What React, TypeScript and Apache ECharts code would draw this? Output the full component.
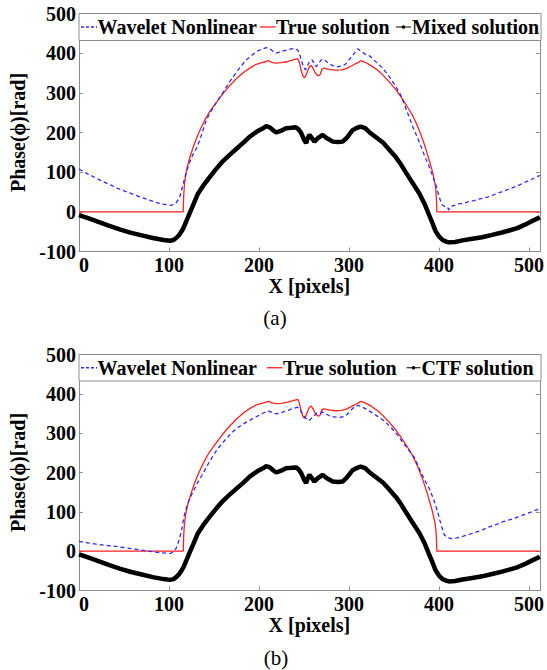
import React, { useEffect, useRef } from "react";
import * as echarts from "echarts";

// ---------- data ----------
const xTickLabels = ["0", "100", "200", "300", "400", "500"];
const yTickLabels = ["-100", "0", "100", "200", "300", "400", "500"];
const legendTop = ["Wavelet Nonlinear", "True solution", "Mixed solution"];
const legendBottom = ["Wavelet Nonlinear", "True solution", "CTF solution"];
const captions = ["(a)", "(b)"];

const trueSolution: number[][] = [
  [0, 0], [115.8, 0], [116.3, 40], [117.2, 70], [118.5, 92], [120, 110], [122, 128], [124.5, 147],
  [127.5, 167], [131, 188], [135, 209], [140, 232], [145, 252], [150, 268], [155, 283], [160, 298],
  [167, 317], [175, 336], [183, 352], [190, 363], [197, 372], [203, 376], [208, 379],
  [211, 381], [214, 377], [219, 375], [225, 376], [232, 379], [238, 383], [243, 386], [245, 376],
  [247, 355], [249, 342], [250.5, 338], [252, 343], [254, 355], [256, 366], [258, 369], [260, 362],
  [262, 352], [264, 346], [266, 343], [268, 346], [270, 360], [272, 362], [278, 359], [285, 357],
  [292, 358], [297, 361], [302, 367], [306, 372], [310, 376], [313, 381], [318, 377], [325, 368],
  [332, 357], [338, 344], [345, 327], [352, 308], [358, 289], [364, 268], [370, 246], [375, 222],
  [379, 200], [383, 175], [386.5, 150], [389.5, 127], [392, 107], [394, 88], [395.5, 72], [396.5, 55],
  [397.2, 30], [397.6, 0], [512, 0],
];

const waveletA: number[][] = [
  [0, 108], [6, 100], [12, 93], [20, 84], [27, 76], [35, 68], [42, 60], [50, 53], [57, 47], [64, 41],
  [71, 35], [79, 29], [86, 23], [92, 20], [97, 18], [101, 16], [105, 18], [108, 23], [110, 30],
  [112, 38], [114, 55], [116, 72], [118, 90], [120, 105], [122.5, 122], [125, 137], [128, 150],
  [131, 162], [134, 180], [137, 200], [140, 222], [143, 238], [147, 255], [150, 266], [155, 284],
  [160, 301], [168, 330], [175, 352], [181, 370], [186, 383], [192, 395], [197, 404], [203, 410],
  [208, 414], [212, 411], [216, 404], [219, 400], [223, 403], [227, 406], [233, 409], [239, 412],
  [243, 408], [245, 398], [247, 383], [249, 368], [251.6, 358], [254, 368], [256, 379], [259, 383],
  [261, 375], [263.5, 366], [267, 377], [270, 385], [273, 382], [276, 377], [280, 371], [284, 366],
  [288, 366], [293, 368], [297, 374], [300, 383], [305, 397], [309.5, 411], [314, 404], [319, 396],
  [323, 393], [330, 378], [338, 361], [345, 340], [352, 316], [358, 292], [365, 250], [371, 214],
  [377, 182], [381.5, 156], [385, 135], [389, 114], [393, 90], [396, 72], [398, 55], [400, 39],
  [402, 26], [403.6, 18], [406, 14], [409, 13], [411, 5], [413, 12], [415, 15], [418, 17], [422, 20],
  [428, 22], [433, 26], [439, 28], [444, 32], [450, 35], [455, 38], [461, 43], [466, 48], [472, 52],
  [477, 57], [482, 61], [487, 65], [493, 72], [499, 78], [505, 84], [512, 92],
];

const waveletB: number[][] = [
  [0, 25], [10, 21], [19, 18], [28, 15], [38, 13], [47, 10], [56, 7], [66, 4], [75, 1], [83, -2],
  [90, -4], [96, -5], [101, -6], [104, -3], [106, 1], [108, 8], [110, 20], [112, 35], [114, 53],
  [116, 80], [117.5, 96], [120, 116], [123, 134], [127, 152], [132, 175], [138, 198], [145, 228],
  [153, 257], [162, 282], [171, 304], [180, 320], [190, 333], [198, 343], [204, 350], [210, 357],
  [215, 352], [219, 349], [223, 351], [227, 354], [232, 358], [238, 363], [243, 366], [246, 358],
  [249, 346], [252, 338], [255.6, 332], [258, 337], [260, 342], [264, 350], [268, 350], [271, 354],
  [275, 348], [279, 343], [285, 341], [290, 340], [294, 342], [297, 346], [301, 355], [304, 363],
  [310, 371], [315, 366], [319, 361], [325, 353], [331, 344], [338, 333], [346, 316], [354, 295],
  [362, 270], [368, 252], [373, 237], [379, 205], [384, 181], [389, 160], [393, 138], [396, 118],
  [399, 96], [401, 78], [403, 62], [406, 41], [410, 34], [414, 32], [420, 34], [427, 38], [434, 43],
  [442, 49], [449, 55], [456, 62], [464, 68], [471, 75], [479, 80], [488, 87], [496, 94], [504, 101],
  [512, 108],
];

const mixedSolution: number[][] = [
  [0, -8], [10, -16], [20, -24], [33, -35], [46, -45], [58, -53], [71, -60], [82, -66], [94, -71],
  [101, -73], [105, -71], [108, -66], [111, -59], [114, -49], [116, -41], [119, -25], [123, -3],
  [127, 18], [132, 45], [138, 66], [145, 87], [152, 107], [160, 128], [168, 145], [175, 159],
  [183, 175], [190, 190], [198, 203], [204, 210], [208, 216], [212, 213], [216, 205], [219, 200],
  [224, 204], [230, 211], [236, 212], [241, 213], [244, 208], [247, 198], [250, 182], [252.4, 173],
  [254, 185], [256, 194], [259, 185], [261.6, 177], [265, 185], [270.8, 194], [275, 186], [282, 177],
  [288, 176], [293, 177], [298, 188], [304, 206], [309, 212], [313, 215], [318, 211], [323, 200],
  [330, 188], [338, 174], [345, 156], [352, 138], [357, 122], [363, 100], [370, 75], [378, 47],
  [384, 20], [389, -8], [393, -30], [396, -48], [400, -62], [404, -71], [408, -75], [411, -77],
  [418, -76], [426, -72], [437, -68], [448, -64], [459, -58], [470, -52], [478, -47], [487, -41],
  [495, -33], [503, -24], [512, -14],
];
const ctfSolution: number[][] = mixedSolution;

// ---------- styles ----------
const FONT = "Liberation Serif";
const AXIS_GRAY = "#8c8c8c";
const BLUE = "#2a2aff";
const RED = "#ff2020";

const grids = [
  { left: 79, top: 13.5, width: 462, height: 238 },
  { left: 79, top: 354.5, width: 462, height: 236 },
];

function xAxes(gi: number) {
  const common = {
    gridIndex: gi,
    type: "value" as const,
    min: 0,
    max: 512,
    interval: 100,
    splitLine: { show: false },
    axisLine: { show: true, onZero: false, lineStyle: { color: AXIS_GRAY, width: 1 } },
    axisTick: { show: true, inside: true, length: 4, lineStyle: { color: AXIS_GRAY } },
  };
  return [
    {
      ...common,
      position: "bottom",
      name: "X [pixels]",
      nameLocation: "middle",
      nameGap: 21,
      nameTextStyle: { fontFamily: FONT, fontWeight: "bold", fontSize: 20, color: "#000" },
      axisLabel: {
        margin: 7,
        lineHeight: 13,
        alignMinLabel: "left",
        fontFamily: FONT,
        fontWeight: "bold",
        fontSize: 20,
        color: "#000",
        formatter: (v: number) => (xTickLabels.includes(String(v)) ? String(v) : ""),
      },
    },
    { ...common, position: "top", axisLabel: { show: false } },
  ];
}

function yAxes(gi: number) {
  const common = {
    gridIndex: gi,
    type: "value" as const,
    min: -100,
    max: 500,
    interval: 100,
    splitLine: { show: false },
    axisLine: { show: true, onZero: false, lineStyle: { color: AXIS_GRAY, width: 1 } },
    axisTick: { show: true, inside: true, length: 4, lineStyle: { color: AXIS_GRAY } },
  };
  return [
    {
      ...common,
      position: "left",
      name: "Phase(ϕ)[rad]",
      nameLocation: "middle",
      nameGap: 47,
      nameTextStyle: { fontFamily: FONT, fontWeight: "bold", fontSize: 20, color: "#000" },
      axisLabel: {
        margin: 3,
        lineHeight: 13,
        fontFamily: FONT,
        fontWeight: "bold",
        fontSize: 20,
        color: "#000",
        formatter: (v: number) => (yTickLabels.includes(String(v)) ? String(v) : ""),
      },
    },
    { ...common, position: "right", axisLabel: { show: false } },
  ];
}

function lineSeries(name: string, data: number[][], gi: number, kind: "blue" | "red" | "black") {
  const style =
    kind === "blue"
      ? { color: BLUE, width: 1.3, type: [4, 3] as any }
      : kind === "red"
      ? { color: RED, width: 1.3, type: "solid" as any }
      : { color: "#000", width: 4.5, type: "solid" as any };
  return {
    type: "line",
    name,
    xAxisIndex: gi * 2,
    yAxisIndex: gi * 2,
    data,
    showSymbol: false,
    symbol: "none",
    smooth: false,
    lineStyle: style,
    itemStyle: { color: style.color },
    z: kind === "black" ? 3 : kind === "red" ? 4 : 5,
  };
}

function legendGraphic(
  top: number,
  height: number,
  labels: string[],
  icons: [number, number][],
  textX: number[]
) {
  const cy = top + height / 2;
  const font = `bold 20px "${FONT}"`;
  const items: any[] = [
    {
      type: "rect",
      shape: { x: 79, y: top, width: 462, height },
      style: { fill: "#fff", stroke: AXIS_GRAY, lineWidth: 1 },
      z: 10,
    },
    {
      type: "line",
      shape: { x1: icons[0][0], y1: cy, x2: icons[0][1], y2: cy },
      style: { stroke: BLUE, lineWidth: 1.3, lineDash: [3, 2] },
      z: 11,
    },
    {
      type: "line",
      shape: { x1: icons[1][0], y1: cy, x2: icons[1][1], y2: cy },
      style: { stroke: RED, lineWidth: 1.3 },
      z: 11,
    },
    {
      type: "line",
      shape: { x1: icons[2][0], y1: cy, x2: icons[2][1], y2: cy },
      style: { stroke: "#000", lineWidth: 1 },
      z: 11,
    },
    {
      type: "circle",
      shape: { cx: (icons[2][0] + icons[2][1]) / 2, cy, r: 1.8 },
      style: { fill: "#000" },
      z: 11,
    },
  ];
  labels.forEach((t, i) => {
    items.push({
      type: "text",
      x: textX[i],
      y: cy,
      style: { text: t, font, fill: "#000", align: "left", verticalAlign: "middle" },
      z: 11,
    });
  });
  return items;
}

export default function App() {
  const ref = useRef<HTMLDivElement>(null);

  useEffect(() => {
    if (!ref.current) return;
    const chart = echarts.init(ref.current, undefined, { renderer: "svg" });
    const option: any = {
      animation: false,
      backgroundColor: "#fff",
      grid: grids,
      xAxis: [...xAxes(0), ...xAxes(1)],
      yAxis: [...yAxes(0), ...yAxes(1)],
      series: [
        lineSeries(legendTop[0], waveletA, 0, "blue"),
        lineSeries(legendTop[1], trueSolution, 0, "red"),
        lineSeries(legendTop[2], mixedSolution, 0, "black"),
        lineSeries(legendBottom[0], waveletB, 1, "blue"),
        lineSeries(legendBottom[1], trueSolution, 1, "red"),
        lineSeries(legendBottom[2], ctfSolution, 1, "black"),
      ],
      graphic: [
        ...legendGraphic(13.5, 27, legendTop, [[81, 97], [260, 275.5], [396, 411]], [97.5, 276, 412]),
        ...legendGraphic(354.5, 26.5, legendBottom, [[81, 97], [267, 282.5], [406.5, 420.5]], [97.5, 283, 421.5]),
        {
          type: "text",
          x: 275,
          y: 318,
          style: { text: captions[0], font: `21px "${FONT}"`, fill: "#000", align: "center", verticalAlign: "middle" },
        },
        {
          type: "text",
          x: 276,
          y: 658,
          style: { text: captions[1], font: `21px "${FONT}"`, fill: "#000", align: "center", verticalAlign: "middle" },
        },
      ],
    };
    chart.setOption(option);
    return () => chart.dispose();
  }, []);

  return (
    <div
      ref={ref}
      style={{ position: "absolute", left: 0, top: 0, width: 547, height: 670, background: "#fff" }}
    />
  );
}
